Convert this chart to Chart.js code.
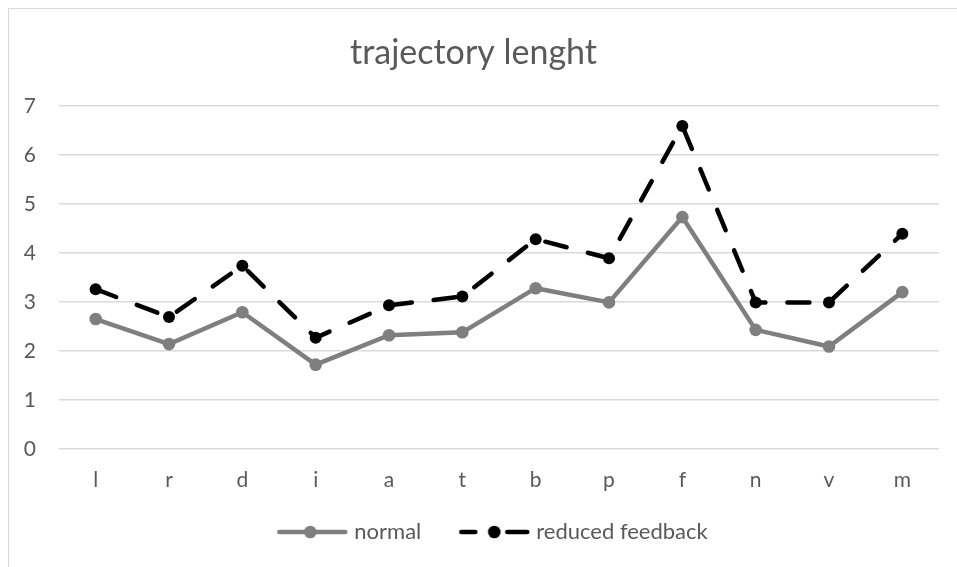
<!DOCTYPE html>
<html>
<head>
<meta charset="utf-8">
<script src="https://cdn.jsdelivr.net/npm/chart.js@4.4.0/dist/chart.umd.min.js"></script>
<style>
    html, body { margin: 0; padding: 0; background: #fff; overflow: hidden; }
    #wrap { position: relative; width: 957px; height: 567px; }
    #frame {
        position: absolute; left: 8px; top: 8px; width: 980px; height: 600px;
        border-left: 1.5px solid #d9d9d9; border-top: 1.5px solid #d9d9d9;
    }
    #chart { position: absolute; left: 0; top: 0; }
</style>
</head>
<body>
<div id="wrap">
    <div id="frame"></div>
    <canvas id="chart" width="957" height="567"></canvas>
</div>
<script>
const categories = ['l', 'r', 'd', 'i', 'a', 't', 'b', 'p', 'f', 'n', 'v', 'm'];
const normalValues = [2.65, 2.14, 2.79, 1.72, 2.32, 2.38, 3.28, 2.99, 4.73, 2.43, 2.09, 3.20];
const reducedValues = [3.26, 2.69, 3.74, 2.27, 2.93, 3.11, 4.28, 3.89, 6.59, 2.99, 2.99, 4.39];
const yTicks = [0, 1, 2, 3, 4, 5, 6, 7];

const FONT = 'Lato, "Open Sans", sans-serif';
const TEXT_COLOR = '#595959';
const GRAY = '#7f7f7f';

// legend markers: a line with a dot in the middle, with blank room on the left
// so the gap between legend items is wider than the vertical padding
function legendMarker(color, dashed) {
    const c = document.createElement('canvas');
    c.width = 90;
    c.height = 16;
    const ctx = c.getContext('2d');
    const x0 = 18;
    ctx.strokeStyle = color;
    ctx.lineWidth = 4.5;
    ctx.lineCap = 'round';
    ctx.beginPath();
    if (dashed) {
        ctx.moveTo(x0 + 3, 8); ctx.lineTo(x0 + 17, 8);
        ctx.moveTo(x0 + 49, 8); ctx.lineTo(x0 + 69, 8);
    } else {
        ctx.moveTo(x0 + 3, 8); ctx.lineTo(x0 + 69, 8);
    }
    ctx.stroke();
    ctx.fillStyle = color;
    ctx.beginPath();
    ctx.arc(x0 + (dashed ? 36 : 34), 8, 6.3, 0, Math.PI * 2);
    ctx.fill();
    return c;
}

const markers = [legendMarker(GRAY, false), legendMarker('#000', true)];

// the legend in the reference sits a bit right of the middle
const legendShift = {
    id: 'legendShift',
    afterLayout: (chart) => {
        chart.legend.left += 12;
        chart.legend.right += 12;
    },
};

new Chart(document.getElementById('chart'), {
    type: 'line',
    data: {
        labels: categories,
        datasets: [
            {
                label: 'normal',
                data: normalValues,
                borderColor: GRAY,
                backgroundColor: GRAY,
                borderWidth: 4.5,
                pointRadius: 6.3,
                pointHoverRadius: 6.3,
                pointBorderWidth: 0,
                tension: 0,
            },
            {
                label: 'reduced feedback',
                data: reducedValues,
                borderColor: '#000',
                backgroundColor: '#000',
                borderWidth: 4.5,
                borderDash: [22, 22],
                borderCapStyle: 'round',
                pointRadius: 6,
                pointHoverRadius: 6,
                pointBorderWidth: 0,
                tension: 0,
            },
        ],
    },
    options: {
        responsive: false,
        animation: false,
        layout: {
            padding: { left: 8, right: 18, top: 0, bottom: 14 },
        },
        scales: {
            x: {
                offset: true,
                grid: { display: false, drawTicks: false, offset: true },
                border: { display: false },
                ticks: {
                    color: TEXT_COLOR,
                    font: { family: FONT, size: 21 },
                    padding: 19,
                },
                afterFit: (scale) => { scale.height = 48; },
            },
            y: {
                min: 0,
                max: 7,
                afterBuildTicks: (scale) => {
                    scale.ticks = yTicks.map(v => ({ value: v }));
                },
                grid: { color: '#d9d9d9', lineWidth: 1.5, drawTicks: false },
                border: { display: false },
                ticks: {
                    color: TEXT_COLOR,
                    font: { family: FONT, size: 21 },
                    padding: 23,
                },
                afterFit: (scale) => { scale.width = 51; },
            },
        },
        plugins: {
            title: {
                display: true,
                text: 'trajectory lenght',
                color: TEXT_COLOR,
                font: { family: FONT, size: 34, weight: 'normal' },
                padding: { top: 33, bottom: 32 },
            },
            legend: {
                position: 'bottom',
                labels: {
                    color: TEXT_COLOR,
                    font: { family: FONT, size: 22 },
                    usePointStyle: true,
                    pointStyleWidth: 80,
                    padding: 24,
                    generateLabels: (chart) => {
                        const items = Chart.defaults.plugins.legend.labels.generateLabels(chart);
                        items.forEach((item, i) => { item.pointStyle = markers[i]; });
                        return items;
                    },
                },
            },
            tooltip: { enabled: false },
        },
    },
    plugins: [legendShift],
});
</script>
</body>
</html>
